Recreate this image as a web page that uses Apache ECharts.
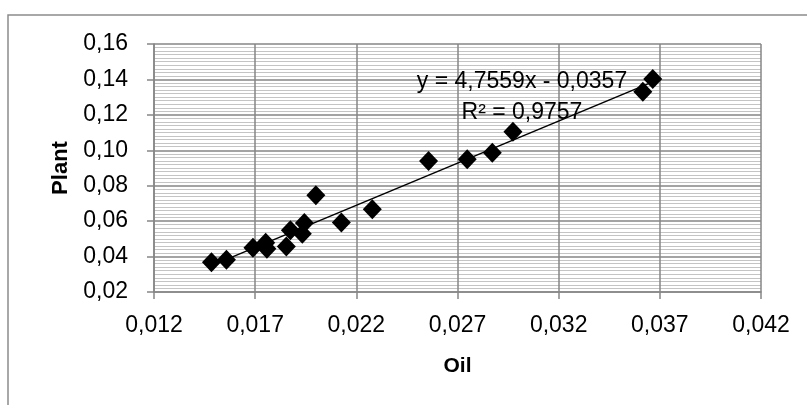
<!DOCTYPE html>
<html>
<head>
<meta charset="utf-8">
<script src="https://cdn.jsdelivr.net/npm/echarts@6/dist/echarts.min.js"></script>
<style>
  html, body { margin: 0; padding: 0; background: #fff; }
  #chart { width: 807px; height: 405px; }
</style>
</head>
<body>
<div id="chart"></div>
<script>
// Oil vs Plant concentrations
const oilValues = [0.01484, 0.01558, 0.01689, 0.01752, 0.01758, 0.01854, 0.01874, 0.01933, 0.01943,
                   0.02000, 0.02126, 0.02279, 0.02557, 0.02748, 0.02872, 0.02974, 0.03616, 0.03665];
const plantValues = [0.0368, 0.0382, 0.0450, 0.0478, 0.0444, 0.0457, 0.0548, 0.0529, 0.0589,
                     0.0746, 0.0592, 0.0667, 0.0940, 0.0950, 0.0986, 0.1105, 0.1331, 0.1403];

// Linear trend fitted to the points
const slope = 4.7559;
const intercept = -0.0357;
const rSquared = 0.9757;

const xTicks = [0.012, 0.017, 0.022, 0.027, 0.032, 0.037, 0.042];
const yTicks = [0.02, 0.04, 0.06, 0.08, 0.10, 0.12, 0.14, 0.16];

const points = oilValues.map((x, i) => [x, plantValues[i]]);
const xMin = Math.min(...oilValues);
const xMax = Math.max(...oilValues);
const trend = [xMin, xMax].map(x => [x, slope * x + intercept]);

const comma = (v, d) => v.toFixed(d).replace('.', ',');
const FONT = '"Liberation Sans", Arial, sans-serif';

const chart = echarts.init(document.getElementById('chart'), null, { renderer: 'canvas' });
chart.setOption({
  backgroundColor: '#ffffff',
  animation: false,
  grid: { left: 154, right: 46, top: 44, bottom: 113, containLabel: false },
  xAxis: {
    type: 'value',
    min: xTicks[0],
    max: xTicks[xTicks.length - 1],
    name: 'Oil',
    nameLocation: 'middle',
    nameGap: 64,
    nameTextStyle: { fontFamily: FONT, fontSize: 21, fontWeight: 'bold', color: '#000' },
    axisLine: { show: true, lineStyle: { color: '#868686', width: 1.5 } },
    axisTick: { show: true, inside: false, length: 7, customValues: xTicks,
                lineStyle: { color: '#868686', width: 1.5 } },
    axisLabel: { customValues: xTicks, margin: 22, fontFamily: FONT, fontSize: 23, color: '#000',
                 formatter: v => comma(v, 3) },
    splitLine: { show: true, lineStyle: { color: '#868686', width: 1.5 } }
  },
  yAxis: {
    type: 'value',
    min: yTicks[0],
    max: yTicks[yTicks.length - 1],
    interval: 0.02,
    name: 'Plant',
    nameLocation: 'middle',
    nameGap: 82,
    nameRotate: 90,
    nameTextStyle: { fontFamily: FONT, fontSize: 22, fontWeight: 'bold', color: '#000' },
    axisLine: { show: true, lineStyle: { color: '#868686', width: 1.5 } },
    axisTick: { show: true, inside: false, length: 7, lineStyle: { color: '#868686', width: 1.5 } },
    axisLabel: { margin: 26, fontFamily: FONT, fontSize: 23, color: '#000',
                 formatter: v => comma(v, 2) },
    splitLine: { show: true, lineStyle: { color: '#868686', width: 1.5 } },
    minorTick: { show: false, splitNumber: 10 },
    minorSplitLine: { show: true, lineStyle: { color: '#c4c4c4', width: 1 } }
  },
  series: [
    {
      type: 'line',
      data: trend,
      symbol: 'none',
      z: 2,
      lineStyle: { color: '#000', width: 1.5 },
      silent: true
    },
    {
      type: 'scatter',
      data: points,
      symbol: 'diamond',
      symbolSize: [19, 20],
      z: 3,
      itemStyle: { color: '#000', opacity: 1 }
    }
  ],
  graphic: [
    {
      type: 'rect',
      shape: { x: 8, y: 15, width: 840, height: 440 },
      style: { fill: 'none', stroke: '#8c8c8c', lineWidth: 1.5 },
      z: 100
    },
    {
      type: 'text',
      x: 522, y: 82, z: 100,
      style: { text: 'y = ' + comma(slope, 4) + 'x - ' + comma(-intercept, 4),
               fontFamily: FONT, fontSize: 23, fill: '#000', align: 'center', verticalAlign: 'middle' }
    },
    {
      type: 'text',
      x: 522, y: 113, z: 100,
      style: { text: 'R² = ' + comma(rSquared, 4),
               fontFamily: FONT, fontSize: 23, fill: '#000', align: 'center', verticalAlign: 'middle' }
    }
  ]
});
</script>
</body>
</html>
